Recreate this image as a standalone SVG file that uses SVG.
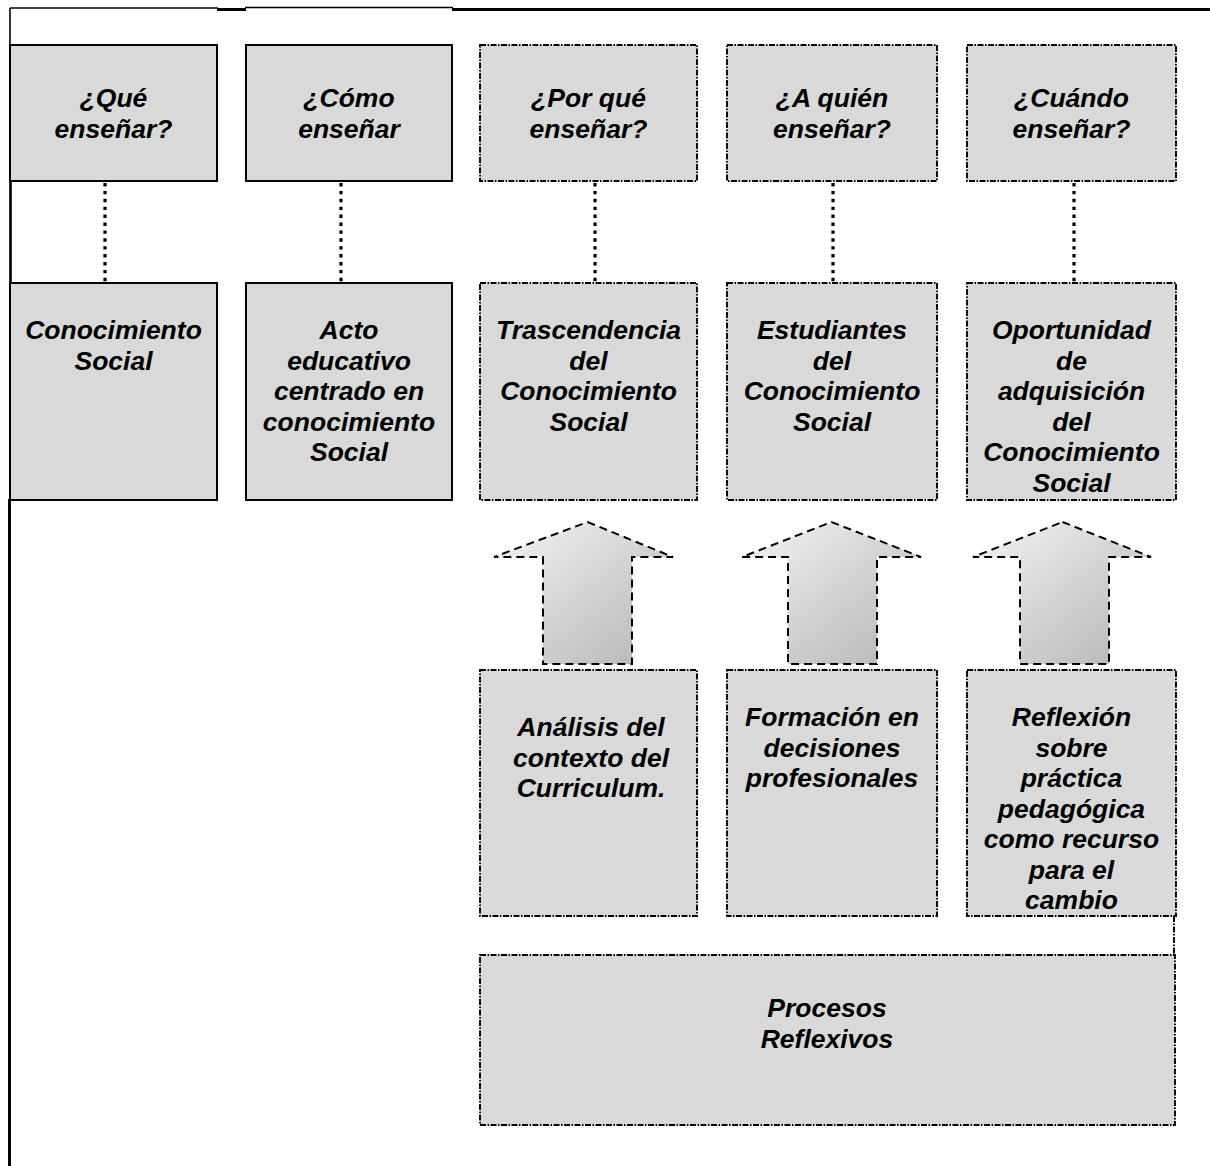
<svg xmlns="http://www.w3.org/2000/svg" width="1210" height="1166" viewBox="0 0 1210 1166">
  <defs>
    <linearGradient id="arrowFill" x1="0" y1="0" x2="1" y2="1">
      <stop offset="0" stop-color="#f4f4f4"/>
      <stop offset="1" stop-color="#b4b4b4"/>
    </linearGradient>
    <style>
      .solid { fill: #d9d9d9; stroke: #000; stroke-width: 2; }
      .dashdot { fill: #d9d9d9; stroke: #000; stroke-width: 1.9; stroke-dasharray: 6 1.5 1.5 1.5; }
      .dots { fill: none; stroke: #000; stroke-width: 3.2; stroke-dasharray: 3.4 4.5; }
      .frame { fill: none; stroke: #000; }
      .arrow { fill: url(#arrowFill); stroke: #000; stroke-width: 2; stroke-dasharray: 8 5; }
      text { font-family: "Liberation Sans", Arial, sans-serif; font-size: 26.5px; font-weight: bold; font-style: italic; fill: #000; text-anchor: middle; }
    </style>
  </defs>

  <!-- outer frame lines -->
  <g id="frame">
    <line class="frame" x1="10" y1="8" x2="218" y2="8" stroke-width="1.6"/>
    <line class="frame" x1="217" y1="9.5" x2="246" y2="9.5" stroke-width="3"/>
    <line class="frame" x1="245" y1="7.5" x2="453" y2="7.5" stroke-width="1.6"/>
    <line class="frame" x1="452" y1="9.5" x2="1210" y2="9.5" stroke-width="3"/>
    <line class="frame" x1="10" y1="8" x2="10" y2="46" stroke-width="1.6"/>
    <line class="frame" x1="10.5" y1="181" x2="10.5" y2="284" stroke-width="2.6"/>
    <line class="frame" x1="9.5" y1="499" x2="9.5" y2="1166" stroke-width="3"/>
  </g>

  <!-- connectors -->
  <g id="connectors">
    <line class="dots" x1="105" y1="183" x2="105" y2="283"/>
    <line class="dots" x1="341" y1="183" x2="341" y2="283"/>
    <line class="dots" x1="595" y1="183" x2="595" y2="283"/>
    <line class="dots" x1="833" y1="183" x2="833" y2="283"/>
    <line class="dots" x1="1074" y1="183" x2="1074" y2="283"/>
    <line class="dashdot" x1="1174" y1="916" x2="1174" y2="955" fill="none"/>
    <polygon class="arrow" points="587.5,522 673,557 632,557 632,664 543,664 543,557 494,557"/>
    <polygon class="arrow" points="831.5,522 921,557 877,557 877,664 788,664 788,557 742,557"/>
    <polygon class="arrow" points="1062.5,522 1151,557 1109,557 1109,664 1020,664 1020,557 973,557"/>
  </g>

  <!-- row 1: questions -->
  <g id="que">
    <rect class="solid" x="10" y="45" width="207" height="136"/>
    <text x="113.5" y="107">¿Qué</text>
    <text x="113.5" y="138">enseñar?</text>
  </g>
  <g id="como">
    <rect class="solid" x="246" y="45" width="206" height="136"/>
    <text x="349" y="107">¿Cómo</text>
    <text x="349" y="138">enseñar</text>
  </g>
  <g id="porque">
    <rect class="dashdot" x="480" y="45" width="217" height="136"/>
    <text x="588.5" y="107">¿Por qué</text>
    <text x="588.5" y="138">enseñar?</text>
  </g>
  <g id="aquien">
    <rect class="dashdot" x="727" y="45" width="210" height="136"/>
    <text x="832" y="107">¿A quién</text>
    <text x="832" y="138">enseñar?</text>
  </g>
  <g id="cuando">
    <rect class="dashdot" x="967" y="45" width="209" height="136"/>
    <text x="1071.5" y="107">¿Cuándo</text>
    <text x="1071.5" y="138">enseñar?</text>
  </g>

  <!-- row 2: answers -->
  <g id="conocimiento">
    <rect class="solid" x="10" y="283" width="207" height="217"/>
    <text x="113.5" y="339">Conocimiento</text>
    <text x="113.5" y="369.5">Social</text>
  </g>
  <g id="acto">
    <rect class="solid" x="246" y="283" width="206" height="217"/>
    <text x="349" y="339">Acto</text>
    <text x="349" y="369.5">educativo</text>
    <text x="349" y="400">centrado en</text>
    <text x="349" y="430.5">conocimiento</text>
    <text x="349" y="461">Social</text>
  </g>
  <g id="trascendencia">
    <rect class="dashdot" x="480" y="283" width="217" height="217"/>
    <text x="588.5" y="339">Trascendencia</text>
    <text x="588.5" y="369.5">del</text>
    <text x="588.5" y="400">Conocimiento</text>
    <text x="588.5" y="430.5">Social</text>
  </g>
  <g id="estudiantes">
    <rect class="dashdot" x="727" y="283" width="210" height="217"/>
    <text x="832" y="339">Estudiantes</text>
    <text x="832" y="369.5">del</text>
    <text x="832" y="400">Conocimiento</text>
    <text x="832" y="430.5">Social</text>
  </g>
  <g id="oportunidad">
    <rect class="dashdot" x="967" y="283" width="209" height="217"/>
    <text x="1071.5" y="339">Oportunidad</text>
    <text x="1071.5" y="369.5">de</text>
    <text x="1071.5" y="400">adquisición</text>
    <text x="1071.5" y="430.5">del</text>
    <text x="1071.5" y="461">Conocimiento</text>
    <text x="1071.5" y="491.5">Social</text>
  </g>

  <!-- row 3: supporting processes -->
  <g id="analisis">
    <rect class="dashdot" x="480" y="670" width="217" height="246"/>
    <text x="591" y="736">Análisis del</text>
    <text x="591" y="766.5">contexto del</text>
    <text x="591" y="797">Curriculum.</text>
  </g>
  <g id="formacion">
    <rect class="dashdot" x="727" y="670" width="210" height="246"/>
    <text x="832" y="726">Formación en</text>
    <text x="832" y="756.5">decisiones</text>
    <text x="832" y="787">profesionales</text>
  </g>
  <g id="reflexion">
    <rect class="dashdot" x="967" y="670" width="209" height="246"/>
    <text x="1071.5" y="726">Reflexión</text>
    <text x="1071.5" y="756.5">sobre</text>
    <text x="1071.5" y="787">práctica</text>
    <text x="1071.5" y="817.5">pedagógica</text>
    <text x="1071.5" y="848">como recurso</text>
    <text x="1071.5" y="878.5">para el</text>
    <text x="1071.5" y="909">cambio</text>
  </g>

  <!-- base -->
  <g id="procesos">
    <rect class="dashdot" x="480" y="955" width="695" height="170"/>
    <text x="827" y="1017">Procesos</text>
    <text x="827" y="1048">Reflexivos</text>
  </g>
</svg>
